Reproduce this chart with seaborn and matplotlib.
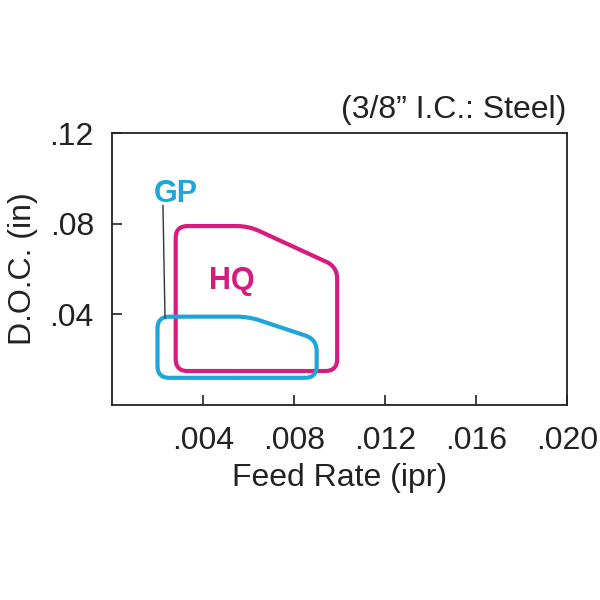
import numpy as np
import pandas as pd
import seaborn as sns
import matplotlib.pyplot as plt

# outline vertices of the two operating windows (feed rate ipr, depth of cut in)
hq_feed = [0.0028, 0.0099, 0.0099, 0.0060, 0.0028]
hq_doc = [0.0150, 0.0150, 0.0610, 0.0790, 0.0790]
gp_feed = [0.0020, 0.0090, 0.0090, 0.0060, 0.0020]
gp_doc = [0.0120, 0.0120, 0.0290, 0.0390, 0.0390]

x_ticks = [0.004, 0.008, 0.012, 0.016, 0.020]
x_labels = [".004", ".008", ".012", ".016", ".020"]
y_ticks = [0.04, 0.08, 0.12]
y_labels = [".04", ".08", ".12"]

HQ_COLOR = "#d81b7f"
GP_COLOR = "#1ea6db"

XLIM = (0, 0.020)
YLIM = (0, 0.12)
AX_RECT = [0.1867, 0.325, 0.758, 0.453]


def rounded_outline(xs, ys, radius_px, sx, sy, n=14):
    """Closed outline with rounded corners, radius given in screen pixels."""
    pts = np.column_stack([np.asarray(xs) * sx, np.asarray(ys) * sy])
    out = []
    m = len(pts)
    for i in range(m):
        v = pts[i]
        p = pts[i - 1]
        q = pts[(i + 1) % m]
        dp = p - v
        dq = q - v
        r = min(radius_px, np.linalg.norm(dp) / 2, np.linalg.norm(dq) / 2)
        a = v + dp / np.linalg.norm(dp) * r
        b = v + dq / np.linalg.norm(dq) * r
        t = np.linspace(0, 1, n)[:, None]
        out.append((1 - t) ** 2 * a + 2 * (1 - t) * t * v + t ** 2 * b)
    out = np.vstack(out)
    # start in the middle of the bottom edge so the seam falls on a straight run
    out = np.roll(out, -n, axis=0)
    mid = (out[-1] + out[0]) / 2
    out = np.vstack([mid, out, mid])
    return pd.DataFrame({"feed": out[:, 0] / sx, "doc": out[:, 1] / sy})


sns.set_style("white")
plt.rcParams["font.family"] = ["Liberation Sans", "DejaVu Sans"]

fig = plt.figure(figsize=(6, 6), dpi=100)
ax = fig.add_axes(AX_RECT)

# pixel scale of data units, for corner rounding
sx = AX_RECT[2] * 600 / (XLIM[1] - XLIM[0])
sy = AX_RECT[3] * 600 / (YLIM[1] - YLIM[0])

gp = rounded_outline(gp_feed, gp_doc, 12, sx, sy)
hq = rounded_outline(hq_feed, hq_doc, 12, sx, sy)

sns.lineplot(data=hq, x="feed", y="doc", sort=False, estimator=None,
             color=HQ_COLOR, linewidth=3.0, solid_capstyle="round",
             solid_joinstyle="round", ax=ax)
sns.lineplot(data=gp, x="feed", y="doc", sort=False, estimator=None,
             color=GP_COLOR, linewidth=3.0, solid_capstyle="round",
             solid_joinstyle="round", ax=ax)

ax.text(0.00527, 0.0547, "HQ", color=HQ_COLOR, fontsize=22, fontweight="bold",
        ha="center", va="center")
ax.text(0.00281, 0.0930, "GP", color=GP_COLOR, fontsize=22, fontweight="bold",
        ha="center", va="center")
ax.plot([0.00224, 0.00233], [0.0882, 0.0384], color="#333333", linewidth=1.0)

ax.set_xlim(*XLIM)
ax.set_ylim(*YLIM)
ax.set_xticks(x_ticks)
ax.set_xticklabels(x_labels)
ax.set_yticks(y_ticks)
ax.set_yticklabels(y_labels)
ax.tick_params(axis="both", direction="in", length=7, width=1.2,
               color="#222222", labelsize=23, labelcolor="#222222",
               bottom=True, left=True)
ax.tick_params(axis="x", pad=15)
ax.tick_params(axis="y", pad=13)

for s in ax.spines.values():
    s.set_visible(True)
    s.set_color("#222222")
    s.set_linewidth(1.3)

ax.set_xlabel("Feed Rate (ipr)", fontsize=23, color="#222222", labelpad=5)
ax.set_ylabel("D.O.C. (in)", fontsize=23, color="#222222", labelpad=8)
ax.set_title("(3/8\u201d I.C.: Steel)", loc="right", fontsize=23,
             color="#222222", pad=11)

fig.savefig("out.png", dpi=100)
